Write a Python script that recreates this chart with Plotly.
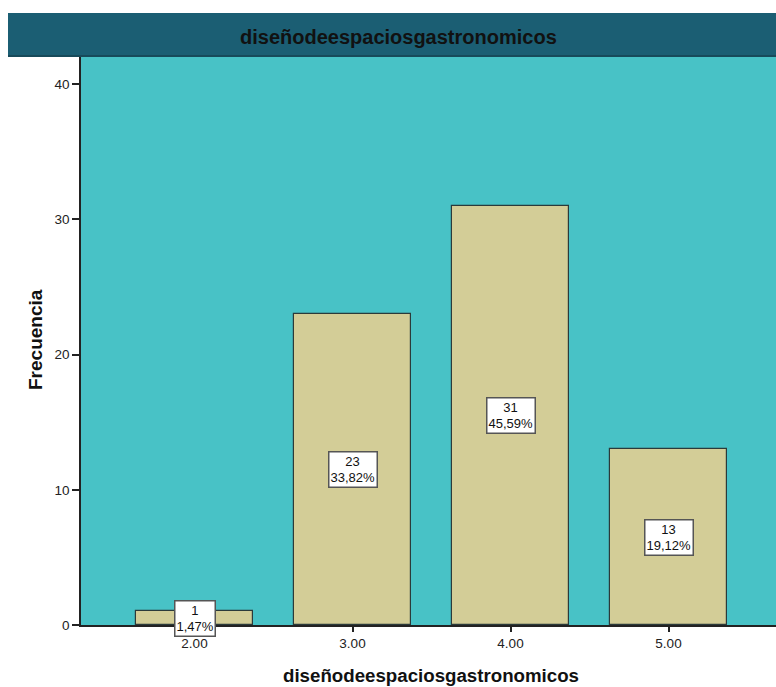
import plotly.graph_objects as go

categories = ["2.00", "3.00", "4.00", "5.00"]
counts = [1, 23, 31, 13]
percent_labels = ["1,47%", "33,82%", "45,59%", "19,12%"]
y_ticks = [0, 10, 20, 30, 40]
title_text = "diseñodeespaciosgastronomicos"
x_title = "diseñodeespaciosgastronomicos"
y_title = "Frecuencia"

W, H = 776, 687
ml, mr, mt, mb = 81, 0, 56, 62
pw = W - ml - mr
ph = H - mt - mb

xs = list(range(len(categories)))

fig = go.Figure()
fig.add_trace(go.Bar(
    x=xs, y=counts, width=0.74,
    marker=dict(color="#D3CD97", line=dict(color="#2b3a3a", width=1.2)),
    hoverinfo="skip", showlegend=False,
))

for xi, c, p in zip(xs, counts, percent_labels):
    fig.add_annotation(
        x=xi, y=c / 2, xref="x", yref="y",
        text=f"{c}<br>{p}", showarrow=False,
        font=dict(family="Liberation Sans, Arial", size=13, color="#111"),
        bgcolor="white", bordercolor="#555", borderwidth=1.5, borderpad=1,
        align="center",
    )

# title bar
top_px = 13
fig.add_shape(
    type="rect", xref="paper", yref="paper",
    x0=(8 - ml) / pw, x1=1.0, y0=1.0, y1=1 + (mt - top_px) / ph,
    fillcolor="#1B5E73", line=dict(width=0), layer="above",
)
fig.add_shape(
    type="line", xref="paper", yref="paper",
    x0=(8 - ml) / pw, x1=1.0, y0=1.0, y1=1.0,
    line=dict(color="#174a5a", width=2), layer="above",
)
fig.add_annotation(
    xref="paper", yref="paper",
    x=(398 - ml) / pw, y=1 + (mt - 37) / ph,
    text=f"<b>{title_text}</b>", showarrow=False,
    font=dict(family="Liberation Sans, Arial", size=20, color="#111"),
    xanchor="center", yanchor="middle",
)

# axis titles as annotations for precise placement
fig.add_annotation(
    xref="paper", yref="paper",
    x=(431 - ml) / pw, y=-(675 - (mt + ph)) / ph,
    text=f"<b>{x_title}</b>", showarrow=False,
    font=dict(family="Liberation Sans, Arial", size=18.7, color="#111"),
    xanchor="center", yanchor="middle",
)
fig.add_annotation(
    xref="paper", yref="paper",
    x=-(ml - 35) / pw, y=(mt + ph - 340) / ph,
    text=f"<b>{y_title}</b>", showarrow=False, textangle=-90,
    font=dict(family="Liberation Sans, Arial", size=19, color="#111"),
    xanchor="center", yanchor="middle",
)

fig.update_layout(
    width=W, height=H,
    margin=dict(l=ml, r=mr, t=mt, b=mb),
    paper_bgcolor="white", plot_bgcolor="#48C2C6",
    bargap=0,
    font=dict(family="Liberation Sans, Arial", size=13, color="#222"),
)
fig.update_xaxes(
    tickmode="array", tickvals=xs, ticktext=categories,
    range=[(ml - 194.5) / 158, 3 + (W - 668.5) / 158],
    showgrid=False, zeroline=False,
    showline=True, linecolor="#222", linewidth=1.5,
    ticks="outside", ticklen=5, tickcolor="#222", tickwidth=1.5,
    tickfont=dict(size=13.5, color="#222"),
)
fig.update_yaxes(
    tickmode="array", tickvals=y_ticks,
    range=[0, ph / 13.518],
    showgrid=False, zeroline=False,
    showline=True, linecolor="#222", linewidth=1.5,
    ticks="outside", ticklen=7, tickcolor="#222", tickwidth=1.5,
    tickfont=dict(size=13.5, color="#222"),
)

fig.write_html("out.html")
